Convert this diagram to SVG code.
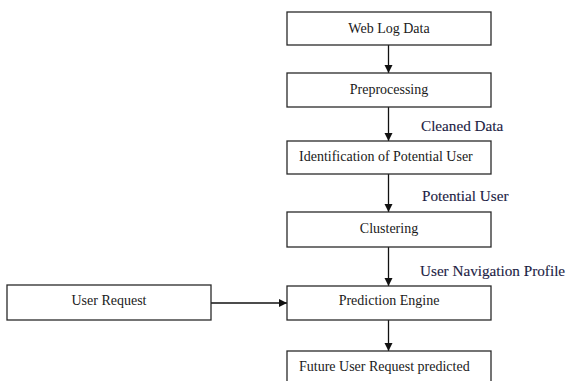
<svg xmlns="http://www.w3.org/2000/svg" width="568" height="381" viewBox="0 0 568 381">
  <style>
    .box { fill: #ffffff; stroke: #2a2a2a; stroke-width: 1.3; }
    .txt { font-family: 'Liberation Serif', 'Times New Roman', Times, 'DejaVu Serif', serif; font-size: 14px; fill: #1a1a1a; }
    .lbl { font-family: 'Liberation Serif', 'Times New Roman', Times, 'DejaVu Serif', serif; font-size: 15.2px; fill: #1c1c44; stroke: #1c1c44; stroke-width: 0.12; }
    .edge { stroke: #111111; stroke-width: 1.3; fill: none; marker-end: url(#arrow); }
  </style>
  <defs>
    <marker id="arrow" viewBox="0 0 10 10" refX="10" refY="5" markerWidth="8" markerHeight="9" markerUnits="userSpaceOnUse" orient="auto">
      <path d="M0,0 L10,5 L0,10 Z" fill="#111111"/>
    </marker>
  </defs>
  <rect width="568" height="381" fill="#ffffff"/>

  <g id="connectors">
    <line class="edge" x1="388.5" y1="45" x2="388.5" y2="73"/>
    <line class="edge" x1="388.5" y1="107" x2="388.5" y2="141"/>
    <line class="edge" x1="388.5" y1="174" x2="388.5" y2="212"/>
    <line class="edge" x1="388.5" y1="247" x2="388.5" y2="286"/>
    <line class="edge" x1="211" y1="303" x2="287" y2="303"/>
    <line class="edge" x1="388.5" y1="320" x2="388.5" y2="351"/>
    <text class="lbl" x="421" y="131">Cleaned Data</text>
    <text class="lbl" x="422" y="201">Potential User</text>
    <text class="lbl" x="420" y="276">User Navigation Profile</text>
  </g>

  <g id="web-log-data">
    <rect class="box" x="287" y="12" width="204" height="33"/>
    <text class="txt" x="389" y="33" text-anchor="middle">Web Log Data</text>
  </g>
  <g id="preprocessing">
    <rect class="box" x="287" y="73" width="204" height="34"/>
    <text class="txt" x="389" y="94" text-anchor="middle">Preprocessing</text>
  </g>
  <g id="identification">
    <rect class="box" x="287" y="141" width="204" height="33"/>
    <text class="txt" x="299" y="161">Identification of Potential User</text>
  </g>
  <g id="clustering">
    <rect class="box" x="287" y="212" width="204" height="35"/>
    <text class="txt" x="389" y="233" text-anchor="middle">Clustering</text>
  </g>
  <g id="prediction-engine">
    <rect class="box" x="287" y="286" width="204" height="34"/>
    <text class="txt" x="389" y="305" text-anchor="middle">Prediction Engine</text>
  </g>
  <g id="user-request">
    <rect class="box" x="7" y="285" width="204" height="35"/>
    <text class="txt" x="109" y="305" text-anchor="middle">User Request</text>
  </g>
  <g id="future-request">
    <rect class="box" x="287" y="351" width="204" height="40"/>
    <text class="txt" x="299" y="371">Future User Request predicted</text>
  </g>
</svg>
